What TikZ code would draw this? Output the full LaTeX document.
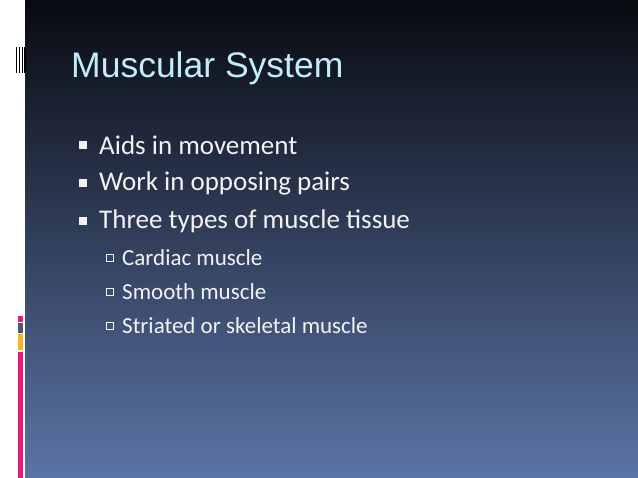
\documentclass[tikz,border=0pt]{standalone}
\usepackage{fontspec}
\setmainfont{Carlito}
\newfontfamily\arialf{Liberation Sans}
\usetikzlibrary{positioning}
\definecolor{topc}{HTML}{080A10}
\definecolor{botc}{HTML}{5B74A6}
\definecolor{titlec}{HTML}{C4ECF8}
\definecolor{txt}{HTML}{F2F2F2}
\definecolor{pinkc}{HTML}{E8197A}
\definecolor{greyc}{HTML}{4A5A70}
\definecolor{yelc}{HTML}{F7B519}
\tikzset{
  lvl1/.style={anchor=west,text=txt,font=\fontsize{27}{31}\selectfont,inner sep=0},
  lvl2/.style={anchor=west,text=txt,font=\fontsize{23}{27}\selectfont,inner sep=0},
  bul1/.style={fill=txt,minimum size=8pt,inner sep=0},
  bul2/.style={draw=txt,line width=0.8pt,minimum size=6.5pt,inner sep=0}
}
\begin{document}
\begin{tikzpicture}[x=1pt,y=1pt]
\useasboundingbox (0,0) rectangle (638,-478);
\fill[white] (0,0) rectangle (25,-478);
\shade[top color=topc,bottom color=botc] (25,0) rectangle (638,-478);
% barcode
\foreach \x in {15.5,18.5,21.5,24}{\fill[black] (\x,-47) rectangle ++(1.6,-26);}
% color strip
\fill[pinkc] (18,-316) rectangle (23,-322);
\fill[greyc] (18,-323.5) rectangle (23,-333);
\fill[yelc] (18,-334.5) rectangle (23,-350);
\fill[pinkc] (18,-352) rectangle (23,-478);
% title
\node[anchor=base west,text=titlec,font=\arialf\fontsize{35.5}{40}\selectfont,inner sep=0] (title) at (71,-78) {Muscular System};
% bullets
\node[bul1] (b1) at (83,-145) {};
\node[lvl1] (t1) at (99,-145) {Aids in movement};
\node[bul1] (b2) at (83,-183) {};
\node[lvl1] (t2) at (99,-183) {Work in opposing pairs};
\node[bul1] (b3) at (83,-221) {};
\node[lvl1] (t3) at (99,-221) {Three types of muscle tissue};
\node[bul2] (s1) at (110,-258) {};
\node[lvl2] (u1) at (122,-258) {Cardiac muscle};
\node[bul2] (s2) at (110,-292) {};
\node[lvl2] (u2) at (122,-292) {Smooth muscle};
\node[bul2] (s3) at (110,-326) {};
\node[lvl2] (u3) at (122,-326) {Striated or skeletal muscle};
\end{tikzpicture}
\end{document}
